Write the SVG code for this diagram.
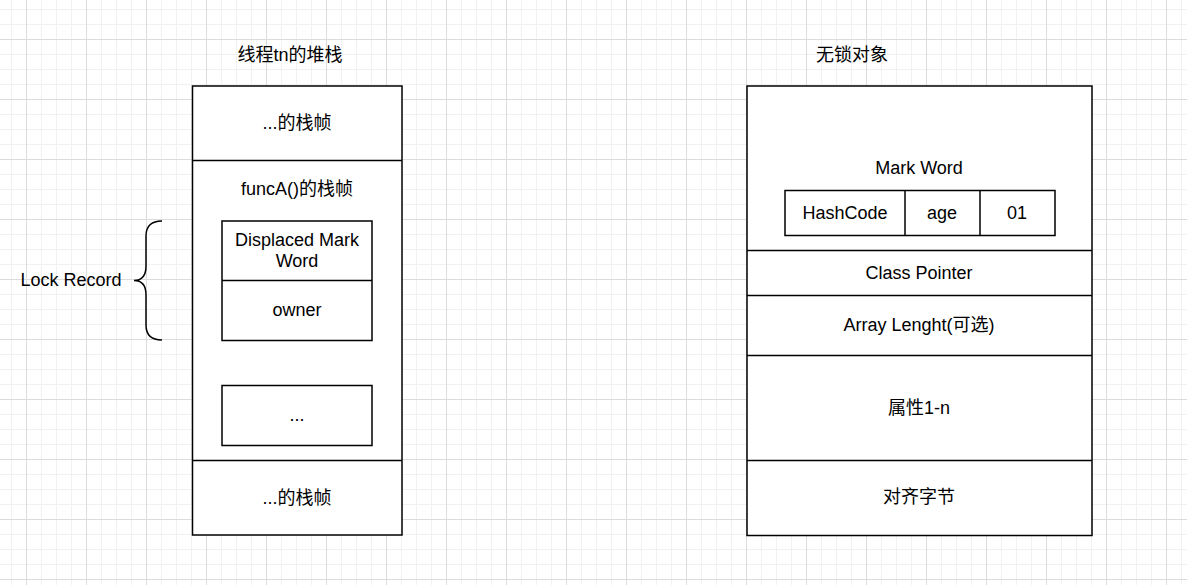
<svg xmlns="http://www.w3.org/2000/svg" width="1187" height="585" viewBox="0 0 1187 585">
<defs>
<pattern id="minor" x="26" y="39" width="15" height="15" patternUnits="userSpaceOnUse">
<path d="M0.5,0 V15 M0,0.5 H15" stroke="#f1f1f1" stroke-width="1" fill="none"/>
</pattern>
<pattern id="major" x="26" y="39" width="60" height="60" patternUnits="userSpaceOnUse">
<path d="M0.5,0 V60 M0,0.5 H60" stroke="#dcdcdc" stroke-width="1" fill="none"/>
</pattern>
<style>
.box{fill:#ffffff;stroke:#000000;stroke-width:1.5}
.ln{fill:none;stroke:#000000;stroke-width:1.5}
text{font-family:"Liberation Sans","Noto Sans CJK SC",sans-serif;font-size:18px;fill:#000000;text-anchor:middle;dominant-baseline:central}
</style>
</defs>
<rect width="1187" height="585" fill="#ffffff"/>
<rect width="1187" height="585" fill="url(#minor)"/>
<rect width="1187" height="585" fill="url(#major)"/>

<g id="title-stack"><text x="290" y="55">线程tn的堆栈</text></g>
<g id="title-object"><text x="852" y="55">无锁对象</text></g>

<g id="stack">
<rect class="box" x="192.5" y="86" width="209.5" height="449"/>
<line class="ln" x1="192.5" y1="160.5" x2="402" y2="160.5"/>
<line class="ln" x1="192.5" y1="460.5" x2="402" y2="460.5"/>
<text x="297" y="123">...的栈帧</text>
<text x="297" y="189">funcA()的栈帧</text>
<text x="297" y="498">...的栈帧</text>
</g>

<g id="lock-record-box">
<rect class="box" x="222" y="221" width="150" height="119.5"/>
<line class="ln" x1="222" y1="280.5" x2="372" y2="280.5"/>
<text x="297" y="240">Displaced Mark</text>
<text x="297" y="261">Word</text>
<text x="297" y="310">owner</text>
</g>

<g id="ellipsis-box">
<rect class="box" x="222" y="385.5" width="150" height="60"/>
<text x="297" y="415">...</text>
</g>

<g id="lock-record-label">
<text x="71" y="280">Lock Record</text>
</g>

<g id="connectors">
<path class="ln" d="M162,221 Q146,221 146,236 L146,266 Q146,280.5 134,280.5 Q146,280.5 146,295 L146,325 Q146,340 162,340"/>
</g>

<g id="object">
<rect class="box" x="747" y="86" width="345" height="449.5"/>
<line class="ln" x1="747" y1="250.5" x2="1092" y2="250.5"/>
<line class="ln" x1="747" y1="295.5" x2="1092" y2="295.5"/>
<line class="ln" x1="747" y1="355.5" x2="1092" y2="355.5"/>
<line class="ln" x1="747" y1="460.5" x2="1092" y2="460.5"/>
<text x="919" y="168">Mark Word</text>
<text x="919" y="273">Class Pointer</text>
<text x="919" y="325">Array Lenght(可选)</text>
<text x="919" y="408">属性1-n</text>
<text x="919" y="497">对齐字节</text>
</g>

<g id="mark-word-table">
<rect class="box" x="785" y="190.5" width="270" height="45"/>
<line class="ln" x1="905" y1="190.5" x2="905" y2="235.5"/>
<line class="ln" x1="980" y1="190.5" x2="980" y2="235.5"/>
<text x="845" y="213">HashCode</text>
<text x="942" y="213">age</text>
<text x="1017" y="213">01</text>
</g>
</svg>
